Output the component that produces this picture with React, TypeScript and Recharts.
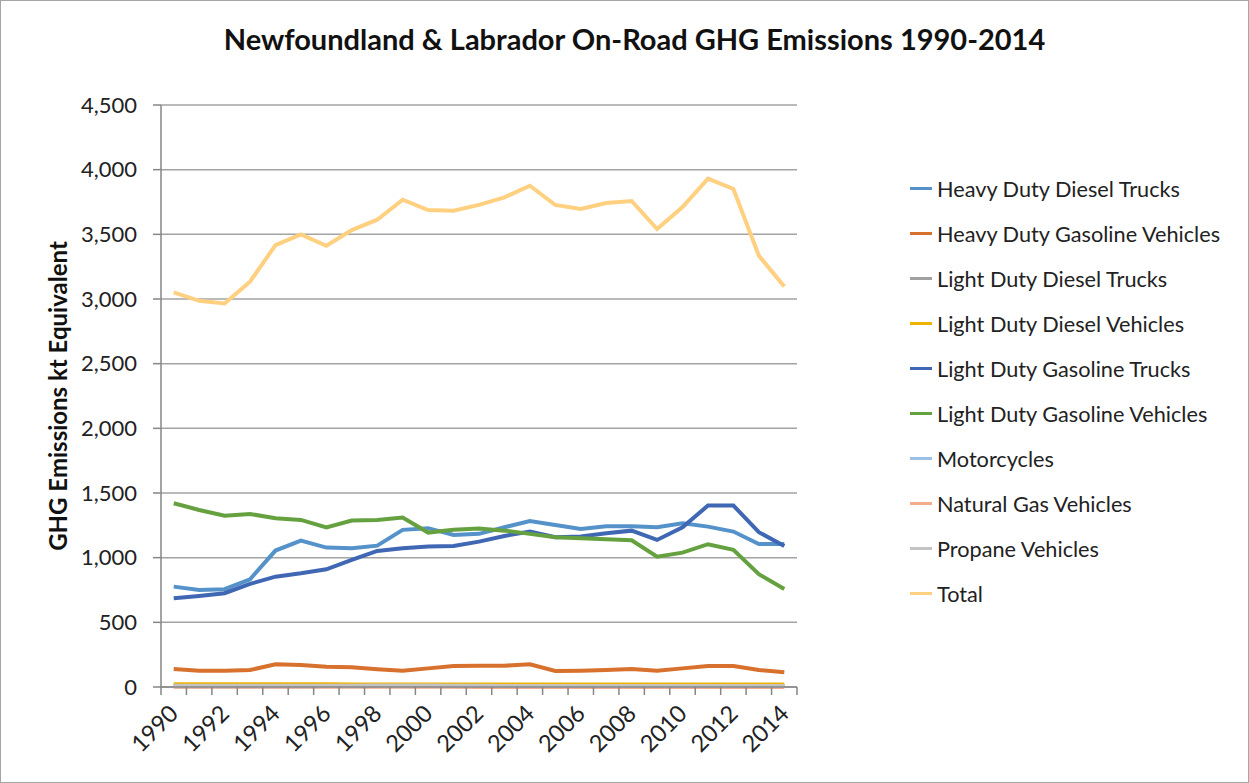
import { LineChart, Line, XAxis, YAxis, CartesianGrid, Legend } from "recharts";

const years = [
  1990, 1991, 1992, 1993, 1994, 1995, 1996, 1997, 1998, 1999, 2000, 2001, 2002,
  2003, 2004, 2005, 2006, 2007, 2008, 2009, 2010, 2011, 2012, 2013, 2014,
];

const heavyDutyDieselTrucks = [
  776, 750, 756, 833, 1055, 1132, 1078, 1073, 1093, 1215, 1228, 1176, 1184,
  1235, 1284, 1253, 1222, 1243, 1243, 1235, 1266, 1240, 1202, 1106, 1106,
];
const heavyDutyGasolineVehicles = [
  139, 126, 126, 131, 175, 170, 157, 152, 137, 126, 144, 162, 165, 165, 175,
  124, 126, 131, 139, 126, 144, 162, 162, 131, 114,
];
const lightDutyDieselTrucks = [
  8, 8, 8, 8, 8, 8, 8, 8, 8, 9, 9, 9, 9, 9, 9, 9, 9, 9, 9, 9, 9, 9, 9, 9, 9,
];
const lightDutyDieselVehicles = [
  22, 22, 22, 22, 22, 21, 21, 20, 20, 20, 20, 20, 20, 20, 20, 20, 20, 20, 20,
  20, 20, 20, 20, 20, 20,
];
const lightDutyGasolineTrucks = [
  686, 704, 725, 797, 853, 879, 910, 983, 1052, 1073, 1086, 1091, 1124, 1168,
  1202, 1158, 1163, 1189, 1209, 1137, 1235, 1403, 1403, 1197, 1091,
];
const lightDutyGasolineVehicles = [
  1421, 1369, 1325, 1338, 1305, 1292, 1233, 1287, 1292, 1310, 1194, 1215,
  1225, 1209, 1184, 1158, 1150, 1143, 1135, 1008, 1039, 1104, 1060, 872, 758,
];
const motorcycles = [
  4, 4, 4, 4, 4, 4, 5, 5, 5, 6, 5, 5, 5, 5, 5, 5, 5, 5, 5, 5, 5, 5, 5, 5, 5,
];
const naturalGasVehicles = [
  1, 1, 1, 1, 1, 1, 1, 1, 1, 1, 1, 1, 0, 0, 0, 0, 0, 0, 0, 0, 0, 0, 0, 0, 0,
];
const propaneVehicles = [
  9, 9, 9, 9, 9, 10, 10, 10, 11, 12, 11, 10, 9, 8, 8, 8, 7, 7, 7, 7, 7, 7, 7,
  7, 7,
];
const total = [
  3051, 2986, 2966, 3134, 3417, 3500, 3412, 3533, 3613, 3768, 3688, 3683,
  3728, 3786, 3876, 3727, 3696, 3742, 3758, 3541, 3711, 3930, 3851, 3335, 3097,
];

const yTicks = [0, 500, 1000, 1500, 2000, 2500, 3000, 3500, 4000, 4500];

const series = [
  { key: "hddt", name: "Heavy Duty Diesel Trucks", values: heavyDutyDieselTrucks, color: "#5692ca" },
  { key: "hdgv", name: "Heavy Duty Gasoline Vehicles", values: heavyDutyGasolineVehicles, color: "#d8702e" },
  { key: "lddt", name: "Light Duty Diesel Trucks", values: lightDutyDieselTrucks, color: "#a0a0a0" },
  { key: "lddv", name: "Light Duty Diesel Vehicles", values: lightDutyDieselVehicles, color: "#efb300" },
  { key: "ldgt", name: "Light Duty Gasoline Trucks", values: lightDutyGasolineTrucks, color: "#3f67b4" },
  { key: "ldgv", name: "Light Duty Gasoline Vehicles", values: lightDutyGasolineVehicles, color: "#66a140" },
  { key: "moto", name: "Motorcycles", values: motorcycles, color: "#9dc0e6" },
  { key: "ngv", name: "Natural Gas Vehicles", values: naturalGasVehicles, color: "#f4ad8c" },
  { key: "prop", name: "Propane Vehicles", values: propaneVehicles, color: "#c3c3c3" },
  { key: "total", name: "Total", values: total, color: "#ffd07f" },
];

const data = years.map((year, i) => {
  const row: Record<string, number | string> = { year: String(year) };
  series.forEach((s) => {
    row[s.key] = s.values[i];
  });
  return row;
});

const FONT = "Lato, 'Liberation Sans', sans-serif";
const LEGEND_WIDTH = 335;

function YearTick(props: any) {
  const { x, y, payload, index, visibleTicksCount } = props;
  const half = payload?.offset ?? 0;
  const isLast = index === visibleTicksCount - 1;
  return (
    <g>
      <line x1={x - half} x2={x - half} y1={y - 8} y2={y} stroke="#868686" strokeWidth={1.5} />
      {isLast && <line x1={x + half} x2={x + half} y1={y - 8} y2={y} stroke="#868686" strokeWidth={1.5} />}
      {index % 2 === 0 && (
        <text
          transform={`translate(${x + 6},${y + 20}) rotate(-45)`}
          textAnchor="end"
          fontSize={23.5}
          fill="#222"
          fontFamily={FONT}
        >
          {payload.value}
        </text>
      )}
    </g>
  );
}

function LegendList(props: any) {
  const { payload } = props;
  return (
    <div style={{ fontFamily: FONT }}>
      {(payload ?? []).map((p: any) => (
        <div key={p.value} style={{ display: "flex", alignItems: "center", height: 45 }}>
          <span style={{ display: "inline-block", width: 22, height: 3.5, background: p.color, marginRight: 5 }} />
          <span style={{ fontSize: 21.7, color: "#222", whiteSpace: "nowrap" }}>{p.value}</span>
        </div>
      ))}
    </div>
  );
}

export default function App() {
  return (
    <div
      style={{
        position: "absolute",
        left: 0,
        top: 0,
        width: 1249,
        height: 783,
        boxSizing: "border-box",
        border: "1.5px solid #a6a6a6",
        background: "#fff",
        overflow: "hidden",
      }}
    >
      <div
        style={{
          position: "absolute",
          left: 0,
          top: 21,
          width: 1267,
          textAlign: "center",
          fontFamily: FONT,
          fontWeight: 700,
          fontSize: 29,
          lineHeight: "34px",
          color: "#111",
        }}
      >
        Newfoundland &amp; Labrador On-Road GHG Emissions 1990-2014
      </div>
      <LineChart
        width={1247}
        height={781}
        data={data}
        margin={{ top: 104, right: 451 - LEGEND_WIDTH, bottom: 0, left: 0 }}
        style={{ position: "absolute", left: 0, top: 0 }}
      >
        <CartesianGrid vertical={false} stroke="#a3a3a3" strokeWidth={1.5} />
        <XAxis
          dataKey="year"
          scale="band"
          interval={0}
          height={95}
          tickSize={8}
          tickMargin={0}
          tickLine={false}
          axisLine={{ stroke: "#868686", strokeWidth: 1.5 }}
          tick={<YearTick />}
        />
        <YAxis
          width={160}
          domain={[0, 4500]}
          ticks={yTicks}
          interval={0}
          tickSize={8}
          tickMargin={16}
          tickFormatter={(v: number) => v.toLocaleString("en-US")}
          tick={{ fontSize: 22, fill: "#222", fontFamily: FONT }}
          axisLine={{ stroke: "#868686", strokeWidth: 1.5 }}
          tickLine={{ stroke: "#868686", strokeWidth: 1.5 }}
          label={{
            content: (p: any) => {
              const vb = p.viewBox;
              const cx = vb.x + 56;
              const cy = vb.y + vb.height / 2;
              return (
                <text
                  x={cx}
                  y={cy}
                  transform={`rotate(-90, ${cx}, ${cy})`}
                  textAnchor="middle"
                  dominantBaseline="central"
                  fontSize={24}
                  fontWeight={700}
                  fill="#111"
                  fontFamily={FONT}
                >
                  GHG Emissions kt Equivalent
                </text>
              );
            },
          }}
        />
        <Legend
          layout="vertical"
          verticalAlign="middle"
          align="right"
          content={<LegendList />}
          wrapperStyle={{ position: "absolute", left: 909, top: 165, width: LEGEND_WIDTH }}
        />
        {series.map((s) => (
          <Line
            key={s.key}
            dataKey={s.key}
            name={s.name}
            type="linear"
            stroke={s.color}
            strokeWidth={4}
            dot={false}
            activeDot={false}
            isAnimationActive={false}
          />
        ))}
      </LineChart>
    </div>
  );
}
